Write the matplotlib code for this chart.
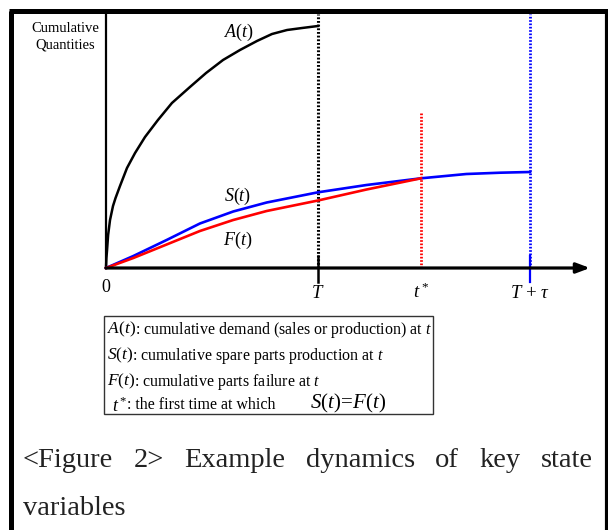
import matplotlib
matplotlib.use("Agg")
import matplotlib.pyplot as plt
from matplotlib.patches import Rectangle

plt.rcParams["font.family"] = ["Liberation Serif", "DejaVu Serif"]
plt.rcParams["mathtext.fontset"] = "custom"
plt.rcParams["mathtext.rm"] = "Liberation Serif"
plt.rcParams["mathtext.it"] = "Liberation Serif:italic"

# cumulative demand A(t)
a_time = [0, 0.002, 0.005, 0.010, 0.019, 0.033, 0.045, 0.066, 0.099, 0.137, 0.184,
          0.245, 0.311, 0.396, 0.472, 0.552, 0.632, 0.712, 0.783, 0.854, 0.925, 1.0]
a_qty = [0, 0.10, 0.18, 0.33, 0.48, 0.62, 0.70, 0.82, 1.00, 1.15, 1.31,
         1.48, 1.65, 1.81, 1.95, 2.08, 2.18, 2.27, 2.34, 2.38, 2.40, 2.42]

# cumulative spare parts production S(t)
s_time = [0, 0.129, 0.286, 0.443, 0.600, 0.758, 1.0, 1.229, 1.486, 1.70, 1.86, 2.0]
s_qty = [0, 0.12, 0.28, 0.445, 0.565, 0.655, 0.757, 0.83, 0.897, 0.94, 0.953, 0.96]

# cumulative parts failure F(t)
f_time = [0, 0.129, 0.286, 0.443, 0.600, 0.758, 1.0, 1.229, 1.486]
f_qty = [0, 0.10, 0.235, 0.37, 0.48, 0.57, 0.675, 0.785, 0.897]

# key instants on the time axis
T = 1.0
t_star = 1.486
T_tau = 2.0
t_star_top = 1.56

x_max = 2.283
y_max = 2.54

legend_rows = [
    (r"$A(t)$", r": cumulative demand (sales or production) at $t$"),
    (r"$S(t)$", r": cumulative spare parts production at $t$"),
    (r"$F(t)$", r": cumulative parts failure at $t$"),
]
caption_line1 = ["<Figure", "2>", "Example", "dynamics", "of", "key", "state"]
caption_line2 = "variables"

W, H = 608, 530
fig = plt.figure(figsize=(W / 100, H / 100), dpi=100)
renderer = fig.canvas.get_renderer()

# page overlay in pixel coordinates
page = fig.add_axes([0, 0, 1, 1])
page.set_xlim(0, W)
page.set_ylim(H, 0)
page.axis("off")


def right_edge(txt):
    """Right edge of a text artist, in page pixel units."""
    bb = txt.get_window_extent(renderer=renderer)
    return page.transData.inverted().transform((bb.x1, bb.y0))[0]


def width_px(txt):
    bb = txt.get_window_extent(renderer=renderer)
    return bb.width


page.plot([11, 11], [11, H], color="black", lw=3.6, solid_capstyle="butt")
page.plot([9, 607], [11, 11], color="black", lw=3.6, solid_capstyle="butt")
page.plot([606.5, 606.5], [9, H], color="black", lw=3.0, solid_capstyle="butt")

page.text(65, 28, "Cumulative", fontsize=10.5, ha="center", va="center")
page.text(65, 45, "Quantities", fontsize=10.5, ha="center", va="center")

# definitions box
page.add_patch(Rectangle((104, 316), 329, 98, fill=False, ec="#333333", lw=1.0))
row_y = [329, 355, 381]
for (sym, desc), y in zip(legend_rows, row_y):
    s = page.text(107, y, sym, fontsize=12.5, ha="left", va="center")
    page.text(right_edge(s) - 1.5, y + 1, desc, fontsize=11.5, ha="left", va="center")
page.text(112, 406, r"$t^*$", fontsize=13, ha="left", va="center")
page.text(127, 405, ": the first time at which", fontsize=11.5, ha="left", va="center")
page.text(310, 403, r"$S(t)\!=\!F(t)$", fontsize=15, ha="left", va="center")

# caption, justified across the text column
cap_left, cap_right = 23, 593
cap_kw = dict(fontsize=20.5, va="baseline", color="#222222")
words = [page.text(0, 467, w, ha="left", **cap_kw) for w in caption_line1]
widths = [width_px(t) for t in words]
gap = (cap_right - cap_left - sum(widths)) / (len(words) - 1)
x = cap_left
for t, w in zip(words, widths):
    t.set_x(x)
    x += w + gap
page.text(cap_left, 515, caption_line2, ha="left", **cap_kw)

# chart axes
ax = fig.add_axes([106 / W, (H - 268) / H, (590 - 106) / W, (268 - 14) / H])
ax.set_xlim(0, x_max)
ax.set_ylim(0, y_max)
ax.axis("off")

ax.plot([0, 0], [0, y_max], color="black", lw=1.6, clip_on=False)
ax.annotate("", xy=(x_max, 0), xytext=(0, 0),
            arrowprops=dict(arrowstyle="-|>,head_length=0.8,head_width=0.3",
                            color="black", lw=2.3, shrinkA=0, shrinkB=0),
            annotation_clip=False)

dot = (0, (0.6, 0.6))
ax.plot([T, T], [0, y_max], color="black", lw=2.2, ls=dot, clip_on=False)
ax.plot([t_star, t_star], [0, t_star_top], color="red", lw=2.0, ls=dot, clip_on=False)
ax.plot([T_tau, T_tau], [0, y_max], color="blue", lw=2.0, ls=dot, clip_on=False)
ax.plot([T, T], [-0.14, 0.12], color="black", lw=1.8, clip_on=False)
ax.plot([T_tau, T_tau], [-0.14, 0.12], color="blue", lw=1.6, clip_on=False)

ax.plot(a_time, a_qty, color="black", lw=1.8, clip_on=False)
ax.plot(s_time, s_qty, color="blue", lw=1.9, clip_on=False)
ax.plot(f_time, f_qty, color="red", lw=1.9, clip_on=False)

ax.text(0, -0.19, "0", fontsize=13, ha="center", va="center")
ax.text(T, -0.26, r"$T$", fontsize=13.5, ha="center", va="center")
ax.text(t_star, -0.24, r"$t^*$", fontsize=13.5, ha="center", va="center")
ax.text(T_tau, -0.26, r"$T\,+\,\tau$", fontsize=13.5, ha="center", va="center")

ax.text(0.63, 2.36, r"$A(t)$", fontsize=13, ha="center", va="center")
ax.text(0.62, 0.72, r"$S(t)$", fontsize=13, ha="center", va="center")
ax.text(0.62, 0.28, r"$F(t)$", fontsize=13, ha="center", va="center")

fig.savefig("out.png", dpi=100)
